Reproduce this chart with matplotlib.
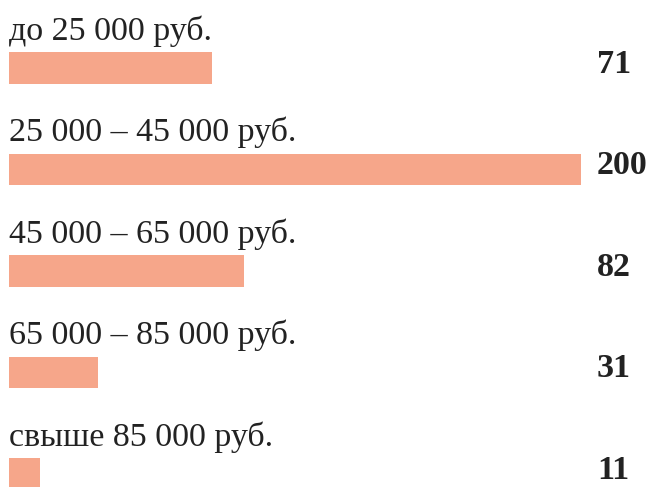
import matplotlib
matplotlib.use("Agg")
import matplotlib.pyplot as plt
import numpy as np

# data
categories = ["до 25 000 руб.", "25 000 – 45 000 руб.", "45 000 – 65 000 руб.",
              "65 000 – 85 000 руб.", "свыше 85 000 руб."]
values = [71, 200, 82, 31, 11]

bar_color = "#F6A68A"
plt.rcParams["font.family"] = ["Liberation Serif", "DejaVu Serif"]

fig = plt.figure(figsize=(6.54, 4.87), dpi=100)
ax = fig.add_axes([0, 0, 1, 1])

pos = np.arange(len(values))
ax.barh(pos, values, height=0.31, color=bar_color, left=0)

for i, (cat, v) in enumerate(zip(categories, values)):
    ax.text(0, i - 0.28, cat, fontsize=24.5, color="#222222", va="baseline", ha="left")
    ax.text(205.6, i - 0.035, str(v), fontsize=24.5, fontweight="bold", color="#222222",
            va="center", ha="left")

ax.set_xlim(-9 / 2.86, 645 / 2.86)
ax.set_ylim(4.128, -0.67)
ax.axis("off")

fig.savefig("out.png", dpi=100)
